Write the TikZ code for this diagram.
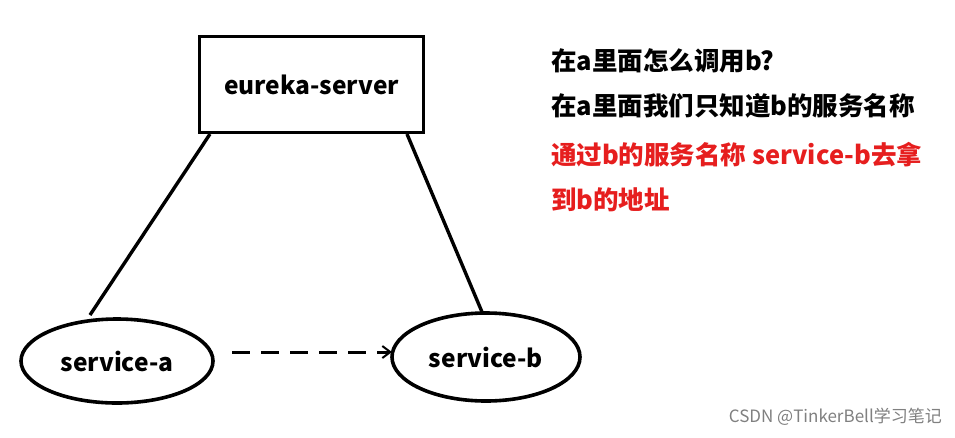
\documentclass[tikz,border=0pt]{standalone}
\usepackage{fontspec}
\setmainfont{Noto Sans CJK SC}
\usetikzlibrary{arrows.meta,shapes.geometric}
\definecolor{myred}{RGB}{230,30,30}
\begin{document}
\begin{tikzpicture}[x=1pt,y=-1pt,
  lbl/.style={font=\bfseries\fontsize{24.5}{28}\selectfont},
  thickshape/.style={line width=3.6pt},
  note/.style={font=\bfseries\fontsize{25.5}{28}\selectfont,anchor=west,inner sep=0}]
\useasboundingbox[fill=white] (0,0) rectangle (955,437);
\node[thickshape,draw,minimum width=224pt,minimum height=96pt,lbl] (es) at (311.5,84.5) {eureka-server};
\node[thickshape,draw,ellipse,minimum width=192pt,minimum height=84pt,lbl] (sa) at (117,361) {service-a};
\node[thickshape,draw,ellipse,minimum width=188pt,minimum height=88pt,lbl] (sb) at (486,357) {service-b};
\coordinate (p1) at (210,134); \coordinate (p2) at (90,315);
\coordinate (q1) at (407,134); \coordinate (q2) at (482,312);
\draw[line width=3.4pt] (p1) -- (p2);
\draw[line width=3.4pt] (q1) -- (q2);
\coordinate (d1) at (232,352); \coordinate (d2) at (392,352);
\draw[line width=3pt,dash pattern=on 18pt off 11pt,-{Straight Barb[length=8pt,width=12pt,line width=2pt]}] (d1) -- (d2);
\node[note] (t1) at (551,61) {在a里面怎么调用b?};
\node[note] (t2) at (551,106) {在a里面我们只知道b的服务名称};
\node[note,text=myred] (t3) at (551,155) {通过b的服务名称 service-b去拿};
\node[note,text=myred] (t4) at (551,200) {到b的地址};
\node[anchor=east,inner sep=0,text=gray,font=\fontsize{17}{19}\selectfont] (wm) at (942,417) {CSDN @TinkerBell学习笔记};
\end{tikzpicture}
\end{document}
